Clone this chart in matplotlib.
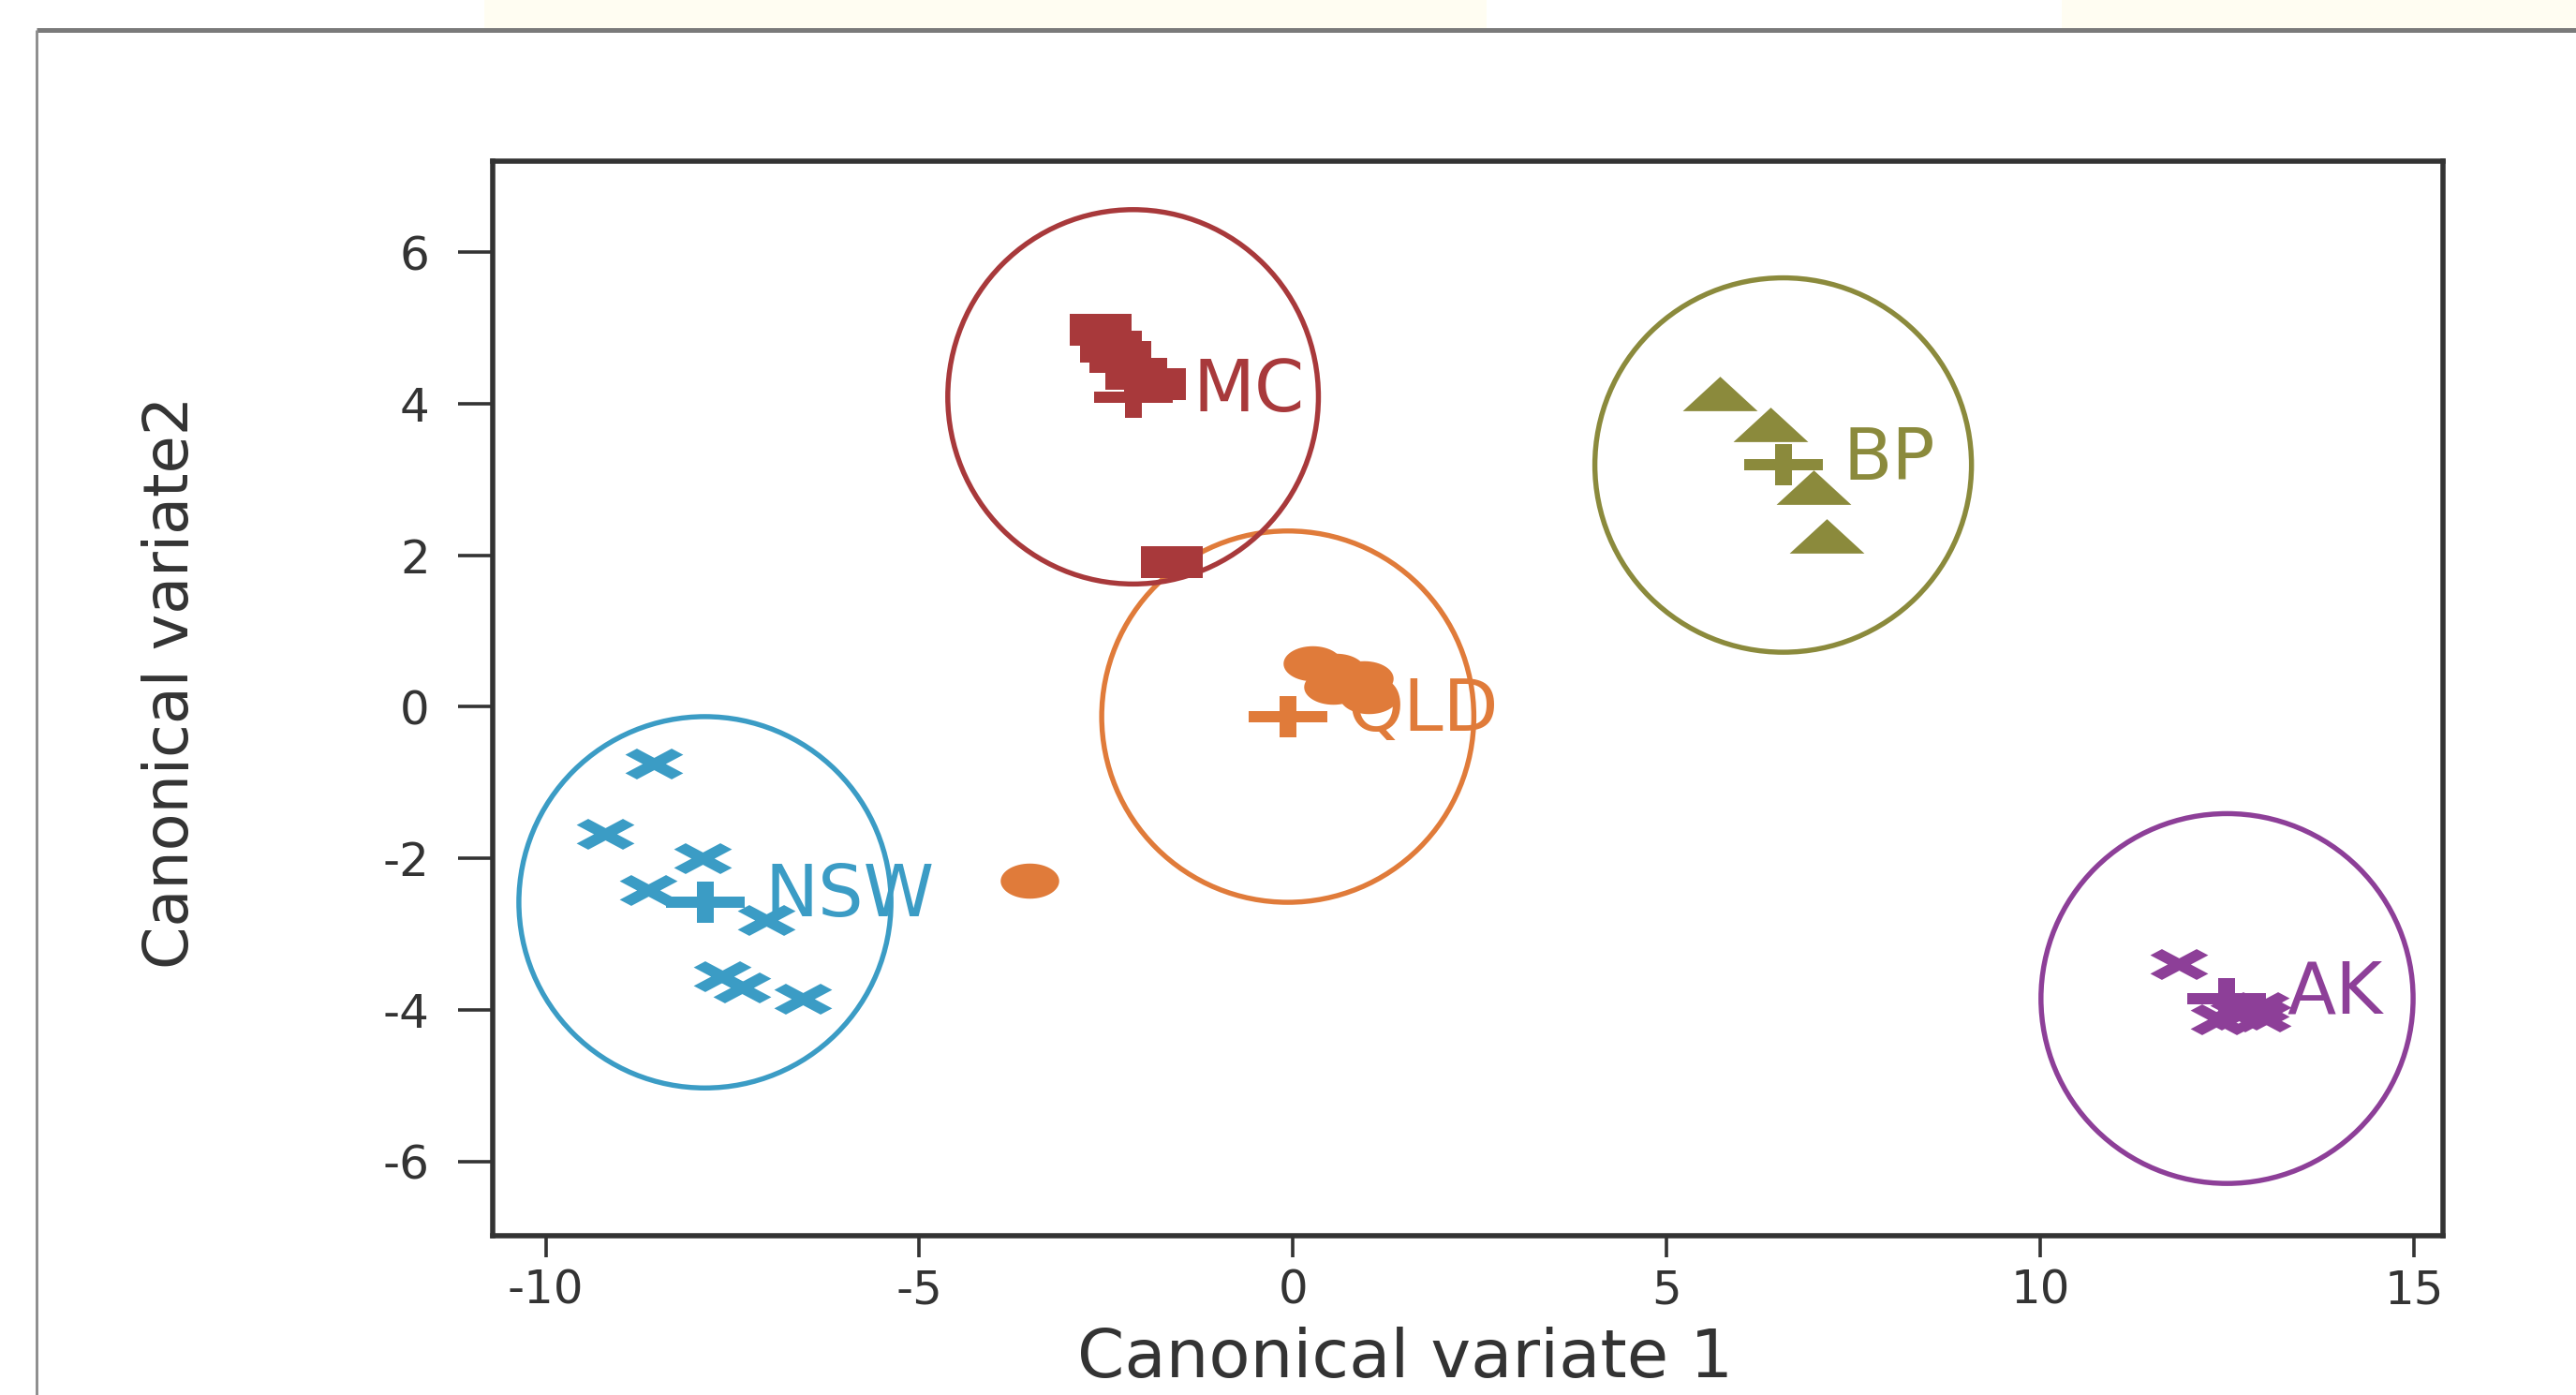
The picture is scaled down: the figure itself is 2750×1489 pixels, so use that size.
import numpy as np
import matplotlib
matplotlib.use("Agg")
import matplotlib.pyplot as plt
from matplotlib.path import Path
from matplotlib.patches import Ellipse, Rectangle
from matplotlib.lines import Line2D

# ---------------- data ----------------
groups = ["NSW", "QLD", "MC", "BP", "AK"]
colors = ["#3b9cc5", "#e07b3a", "#a8393b", "#8b8a3c", "#8d3f98"]

nsw_x = [-8.56, -9.20, -7.90, -8.63, -7.05, -7.64, -7.38, -6.56]
nsw_y = [-0.75, -1.68, -2.00, -2.42, -2.81, -3.55, -3.70, -3.85]

qld_x = [0.26, 0.57, 0.53, 0.95, 1.01, -3.53]
qld_y = [0.57, 0.47, 0.26, 0.38, 0.14, -2.29]

mc_x = [-2.58, -2.44, -2.31, -2.10, -1.85, -1.62]
mc_y = [4.98, 4.75, 4.62, 4.39, 4.26, 1.91]

bp_x = [5.71, 6.39, 6.97, 7.14]
bp_y = [4.14, 3.72, 2.90, 2.25]

ak_x = [11.85, 12.39, 12.60, 12.66, 12.97, 12.95]
ak_y = [-3.40, -4.13, -3.98, -4.06, -4.09, -3.96]

mean_x = [-7.87, -0.07, -2.14, 6.56, 12.50]
mean_y = [-2.58, -0.13, 4.09, 3.19, -3.85]

region_rx = [2.49, 2.49, 2.48, 2.52, 2.49]
region_ry = [2.45, 2.45, 2.47, 2.47, 2.44]

xticks = [-10, -5, 0, 5, 10, 15]
yticks = [-6, -4, -2, 0, 2, 4, 6]

# ---------------- marker shapes (horizontally stretched, as in the picture) ----------------
def closed(verts):
    v = np.asarray(verts, float)
    v = np.vstack([v, v[:1]])
    codes = [Path.MOVETO] + [Path.LINETO] * (len(v) - 2) + [Path.CLOSEPOLY]
    return Path(v, codes)

sq_h = 0.52
m_square = closed([(-1, -sq_h), (1, -sq_h), (1, sq_h), (-1, sq_h)])
tr_h = 0.46
m_tri = closed([(0, tr_h), (-1, -tr_h), (1, -tr_h)])
t = np.linspace(0, 2 * np.pi, 60, endpoint=False)
m_ell = closed(np.column_stack([np.cos(t), 0.6 * np.sin(t)]))

w = 0.25
plus_arm = np.array([(w, w), (w, 1), (-w, 1), (-w, w), (-1, w), (-1, -w),
                     (-w, -w), (-w, -1), (w, -1), (w, -w), (1, -w), (1, w)])
c45 = np.cos(np.pi / 4)
rot = np.array([[c45, -c45], [c45, c45]])
xv = plus_arm @ rot.T
xv[:, 0] *= 1.88
m_x = closed(xv)

hh, vw, vh = 0.14, 0.22, 0.53
m_plus = closed([(vw, hh), (vw, vh), (-vw, vh), (-vw, hh), (-1, hh), (-1, -hh),
                 (-vw, -hh), (-vw, -vh), (vw, -vh), (vw, -hh), (1, -hh), (1, hh)])

# ---------------- figure ----------------
plt.rcParams['font.family'] = ['DejaVu Sans']
plt.rcParams['axes.unicode_minus'] = False

W, H = 2750, 1489
DPI = 100
fig = plt.figure(figsize=(W / DPI, H / DPI), dpi=DPI)
fig.patch.set_facecolor("white")

# faint page decorations & outer frame
fig.add_artist(Rectangle((517 / W, 1 - 30 / H), (1587 - 517) / W, 30 / H,
                         transform=fig.transFigure, color="#fffdf2", lw=0, zorder=0))
fig.add_artist(Rectangle((2201 / W, 1 - 30 / H), (W - 2201) / W, 30 / H,
                         transform=fig.transFigure, color="#fffdf2", lw=0, zorder=0))
fig.add_artist(Line2D([39 / W, 1.0], [1 - 32 / H, 1 - 32 / H], transform=fig.transFigure,
                      color="#7a7a7a", lw=3.6, solid_capstyle="butt"))
fig.add_artist(Line2D([39 / W, 39 / W], [0, 1 - 32 / H], transform=fig.transFigure,
                      color="#8a8a8a", lw=2.0, solid_capstyle="butt"))

ax = fig.add_axes([526 / W, 1 - 1319 / H, (2608 - 526) / W, (1319 - 172) / H])
ax.set_xlim(-10.71, 15.39)
ax.set_ylim(-6.98, 7.2)

for sp in ax.spines.values():
    sp.set_linewidth(4.0)
    sp.set_color("#333333")

ax.set_xticks(xticks)
ax.set_yticks(yticks)
ax.tick_params(axis="x", length=16.5, width=2.6, color="#333333", pad=8,
               labelsize=36, labelcolor="#333333")
ax.tick_params(axis="y", length=26.5, width=2.6, color="#333333", pad=22,
               labelsize=36, labelcolor="#333333")

ax.set_xlabel("Canonical variate 1", fontsize=52, color="#333333")
ax.xaxis.label.set_va("baseline")
ax.xaxis.set_label_coords((1500 - 526) / (2608 - 526), -(1470 - 1319) / (1319 - 172))
ax.set_ylabel("Canonical variate2", fontsize=47, color="#333333")
ax.yaxis.label.set_va("center")
ax.yaxis.set_label_coords((183 - 526) / (2608 - 526), (1319 - 728) / (1319 - 172))

# tolerance regions
for i in range(len(groups)):
    ax.add_patch(Ellipse((mean_x[i], mean_y[i]), 2 * region_rx[i], 2 * region_ry[i],
                         fill=False, ec=colors[i], lw=3.9, zorder=2))

# group means
for i in range(len(groups)):
    ax.plot([mean_x[i]], [mean_y[i]], linestyle="none", marker=m_plus, ms=61,
            mew=0, color=colors[i], zorder=3)

# observations
pts = [(nsw_x, nsw_y, m_x, 44.5), (qld_x, qld_y, m_ell, 45),
       (mc_x, mc_y, m_square, 48), (bp_x, bp_y, m_tri, 57.5),
       (ak_x, ak_y, m_x, 44.5)]
for i, (px, py, mk, ms) in enumerate(pts):
    ax.plot(px, py, linestyle="none", marker=mk, ms=ms, mew=0,
            color=colors[i], zorder=4)

# group labels
for i, g in enumerate(groups):
    ax.annotate(g, xy=(mean_x[i], mean_y[i]), xytext=(46, -11),
                textcoords="offset points", ha="left", va="baseline",
                fontsize=55, color=colors[i], zorder=5, annotation_clip=False)

fig.savefig("out.png", dpi=DPI)
